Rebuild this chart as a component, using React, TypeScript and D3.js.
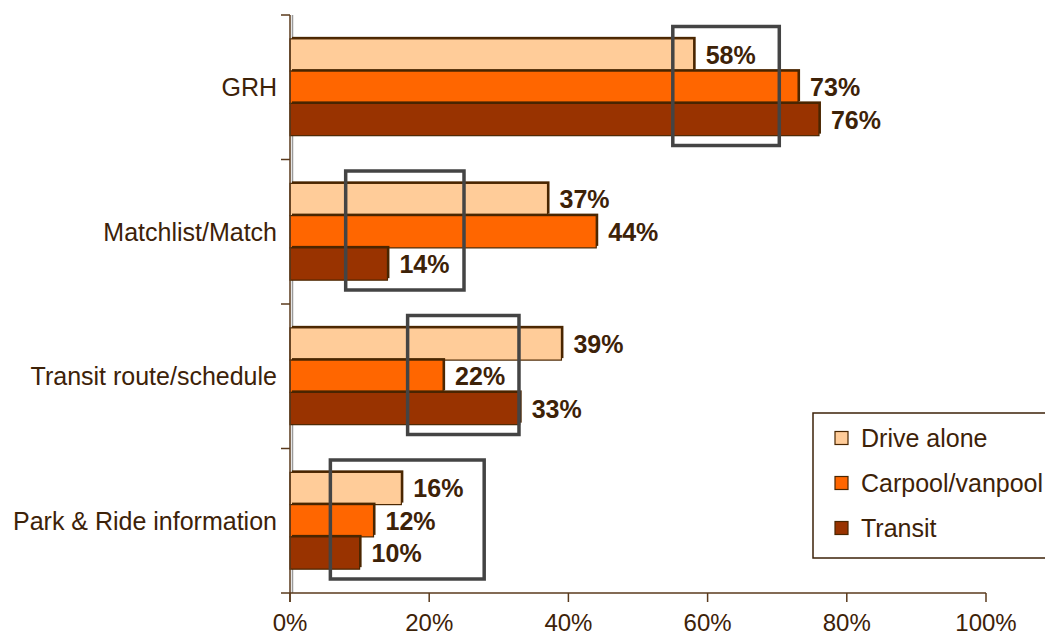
import * as d3 from "d3";

const categories = ["GRH", "Matchlist/Match", "Transit route/schedule", "Park & Ride information"];
const seriesNames = ["Drive alone", "Carpool/vanpool", "Transit"];
const driveAlone = [58, 37, 39, 16];
const carpool = [73, 44, 22, 12];
const transit = [76, 14, 33, 10];
const xTicks = [0, 20, 40, 60, 80, 100];
// grey highlight boxes, in percent along the x axis
const boxFrom = [55, 8, 16.9, 5.8];
const boxTo = [70.3, 25, 32.9, 27.9];

const colors = ["#FFCC99", "#FF6600", "#993300"];
const dark = "#4a2600";
const textColor = "#3d2208";
const axisColor = "#5a3a1c";
const font = "'Liberation Sans', Arial, sans-serif";

const W = 1045;
const H = 635;
const margin = { top: 15, right: 59, bottom: 42, left: 290 };

const App = () => {
  const values = [driveAlone, carpool, transit];

  const x = d3
    .scaleLinear()
    .domain([0, 100])
    .range([margin.left, W - margin.right]);

  const y = d3
    .scaleBand<string>()
    .domain(categories)
    .range([margin.top, H - margin.bottom])
    .paddingInner(0.33)
    .paddingOuter(0.165);

  const inner = d3
    .scaleBand<string>()
    .domain(seriesNames)
    .range([0, y.bandwidth()]);

  const step = y.step();
  const bandTop = (c: string) => (y(c) ?? 0) - (step * y.paddingInner()) / 2;
  const baseY = H - margin.bottom;
  const depth = 2;

  return (
    <svg
      width={W}
      height={H}
      style={{ position: "absolute", left: 0, top: 0, background: "#fff" }}
      fontFamily={font}
    >
      {/* y axis shadow wall */}
      <line x1={x(0) + 2.5} x2={x(0) + 2.5} y1={margin.top} y2={baseY} stroke="#9a9a9a" strokeWidth={1.5} />

      {/* bars */}
      {categories.map((c, ci) => (
        <g key={c}>
          {seriesNames.map((s, si) => {
            const v = values[si][ci];
            const by = (y(c) ?? 0) + (inner(s) ?? 0);
            const bh = inner.bandwidth();
            const bw = x(v) - x(0);
            return (
              <g key={s}>
                <rect x={x(0) + depth} y={by - depth} width={bw} height={bh} fill={dark} />
                <rect
                  x={x(0)}
                  y={by}
                  width={bw}
                  height={bh}
                  fill={colors[si]}
                  stroke={dark}
                  strokeWidth={1.2}
                />
              </g>
            );
          })}
        </g>
      ))}

      {/* value labels */}
      {categories.map((c, ci) =>
        seriesNames.map((s, si) => {
          const v = values[si][ci];
          const cy = (y(c) ?? 0) + (inner(s) ?? 0) + inner.bandwidth() / 2;
          return (
            <text
              key={c + s}
              x={x(v) + 12}
              y={cy}
              dy="0.36em"
              fontSize={25}
              fontWeight="bold"
              fill={textColor}
            >
              {v}%
            </text>
          );
        })
      )}

      {/* highlight boxes */}
      {categories.map((c, ci) => {
        const top = bandTop(c) + 11.5;
        const bottom = bandTop(c) + step - 14;
        return (
          <rect
            key={"box" + c}
            x={x(boxFrom[ci])}
            y={top}
            width={x(boxTo[ci]) - x(boxFrom[ci])}
            height={bottom - top}
            fill="none"
            stroke="#444444"
            strokeWidth={3.5}
          />
        );
      })}

      {/* y axis */}
      <line x1={x(0)} x2={x(0)} y1={margin.top} y2={baseY + 9} stroke={axisColor} strokeWidth={1.5} />
      {categories.map((c) => (
        <line
          key={"yt" + c}
          x1={x(0) - 9}
          x2={x(0)}
          y1={bandTop(c)}
          y2={bandTop(c)}
          stroke={axisColor}
          strokeWidth={1.5}
        />
      ))}
      {categories.map((c) => (
        <text
          key={"yl" + c}
          x={x(0) - 13}
          y={bandTop(c) + step / 2}
          dy="0.35em"
          textAnchor="end"
          fontSize={25}
          fill={textColor}
        >
          {c}
        </text>
      ))}

      {/* x axis */}
      <line x1={x(0) - 9} x2={x(100)} y1={baseY} y2={baseY} stroke={axisColor} strokeWidth={1.5} />
      {xTicks.map((t) => (
        <g key={"xt" + t}>
          <line x1={x(t)} x2={x(t)} y1={baseY} y2={baseY + 9} stroke={axisColor} strokeWidth={1.5} />
          <text x={x(t)} y={baseY + 38} textAnchor="middle" fontSize={24} fill={textColor}>
            {t}%
          </text>
        </g>
      ))}

      {/* legend (right border runs past the picture edge) */}
      <rect x={813} y={413} width={250} height={145} fill="#fff" stroke={textColor} strokeWidth={1.5} />
      {seriesNames.map((s, si) => (
        <g key={"lg" + s} transform={`translate(835, ${438 + si * 45})`}>
          <rect x={0} y={-6.5} width={13} height={13} fill={colors[si]} stroke={dark} strokeWidth={1.2} />
          <text x={26} y={0} dy="0.36em" fontSize={25} fill={textColor}>
            {s}
          </text>
        </g>
      ))}
    </svg>
  );
};

export default App;
